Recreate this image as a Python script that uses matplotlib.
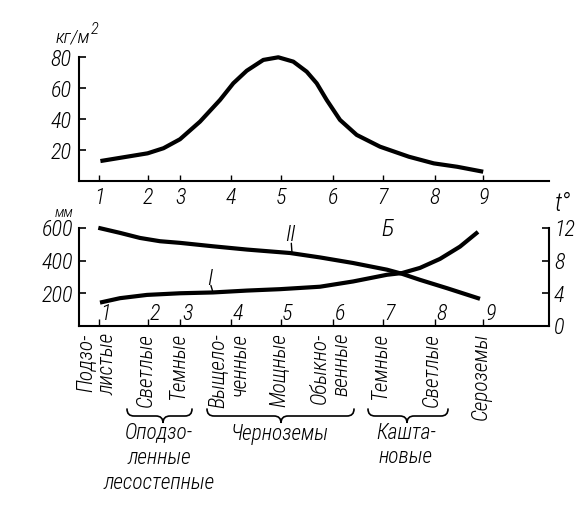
import matplotlib
matplotlib.use('Agg')
import matplotlib.pyplot as plt
from matplotlib.path import Path
from matplotlib.patches import PathPatch
import matplotlib.transforms as mtransforms
from matplotlib import font_manager as fm

# ---- pick a narrow font if one is installed ----
_entries = fm.fontManager.ttflist
_names = {f.name for f in _entries}
_cands = ['Liberation Sans Narrow', 'Roboto Condensed', 'Open Sans Condensed',
          'Noto Sans Condensed', 'DejaVu Sans Condensed', 'Arial Narrow']
_found = [c for c in _cands if c in _names]
NARROW = True
if _found:
    plt.rcParams['font.family'] = [_found[0], 'DejaVu Sans']
else:
    _cond = [f.name for f in _entries
             if str(f.stretch) in ('condensed', 'semi-condensed', 'extra-condensed',
                                   'ultra-condensed', '500', '600', '700', '750')]
    if _cond:
        plt.rcParams['font.family'] = [_cond[0], 'DejaVu Sans']
        plt.rcParams['font.stretch'] = 'condensed'
    else:
        plt.rcParams['font.family'] = ['Liberation Sans', 'DejaVu Sans']
        NARROW = False
plt.rcParams['font.style'] = 'italic'
plt.rcParams['font.weight'] = 'light'

# ---------------- data ----------------
soil_numbers = ['1', '2', '3', '4', '5', '6', '7', '8', '9']
soil_pos = [20.5, 69.5, 101.8, 152.3, 202.0, 254.5, 304.3, 356.0, 404.8]
soil_names = ["Подзо-\nлистые", "Светлые", "Темные", "Выщело-\nченные", "Мощные",
              "Обыкно-\nвенные", "Темные", "Светлые", "Сероземы"]
group_names = ["Оподзо-\nленные\nлесостепные", "Черноземы", "Кашта-\nновые"]

# A: biomass, kg/m2
mass_x = [21.9, 69.1, 85.0, 101.5, 121.5, 141.5, 154.8, 168.2, 184.8, 199.8, 214.8,
          228.2, 238.2, 248.2, 261.5, 278.2, 301.5, 330.4, 355.3, 378.7, 404.7]
mass_y = [12.9, 17.9, 21.2, 27.0, 38.4, 52.4, 63.2, 71.3, 78.3, 80.0, 77.2,
          70.7, 63.2, 52.4, 39.5, 29.8, 22.2, 15.7, 11.4, 9.2, 6.0]

# II: precipitation, mm
prec_x = [19.8, 41.5, 61.5, 81.5, 101.5, 134.5, 168.5, 211.5, 241.5, 274.5, 308.5,
          323.5, 341.5, 368.5, 401.5]
prec_mm = [600, 569, 538, 518, 508, 487, 467, 446, 419, 385, 344, 319, 282, 231, 166]

# I: temperature, t°
temp_x = [21.5, 41.5, 68.5, 101.5, 134.5, 168.5, 201.5, 241.5, 274.5, 308.5, 323.5,
          341.5, 361.5, 381.5, 399.5]
temp_t = [2.86, 3.4, 3.8, 4.0, 4.1, 4.33, 4.5, 4.8, 5.44, 6.26, 6.47, 7.1, 8.2, 9.7, 11.5]

mass_ticks = [20, 40, 60, 80]
prec_ticks = [200, 400, 600]
temp_ticks = [0, 4, 8, 12]

# ---------------- layout ----------------
W, H = 581, 519
fig = plt.figure(figsize=(W / 100, H / 100), dpi=100)


def rect(l, r, top, bot):
    return [l / W, 1 - bot / H, (r - l) / W, (bot - top) / H]


LW_AX = 1.5
LW_CURVE = 3.0
FS_TICK = 16 if NARROW else 13
FS_LAB = 15.5 if NARROW else 12

# top panel
ax1 = fig.add_axes(rect(78.5, 548.5, 57.3, 181))
ax1.set_xlim(0, 470)
ax1.set_ylim(0, 80)
ax1.plot(mass_x, mass_y, color='black', lw=LW_CURVE, solid_joinstyle='round',
         solid_capstyle='butt', clip_on=False)
for s in ['top', 'right']:
    ax1.spines[s].set_visible(False)
for s in ['left', 'bottom']:
    ax1.spines[s].set_linewidth(LW_AX)
ax1.set_xticks(soil_pos, soil_numbers)
ax1.set_yticks(mass_ticks)
ax1.tick_params(axis='x', direction='in', length=4, width=1, pad=4.5, labelsize=FS_TICK)
ax1.tick_params(axis='y', direction='in', length=5, width=1.2, pad=5, labelsize=FS_TICK)
ax1.patch.set_alpha(0)

# bottom panel
ax2 = fig.add_axes(rect(78.5, 548.5, 227.8, 326))
ax2.set_xlim(0, 470)
ax2.set_ylim(0, 600)
ax2.patch.set_alpha(0)
ax2.plot(prec_x, prec_mm, color='black', lw=LW_CURVE, solid_joinstyle='round',
         solid_capstyle='butt', clip_on=False)
ax3 = ax2.twinx()
ax3.set_ylim(0, 12)
ax3.patch.set_alpha(0)
ax3.plot(temp_x, temp_t, color='black', lw=LW_CURVE, solid_joinstyle='round',
         solid_capstyle='butt', clip_on=False)
for s in ['top', 'right']:
    ax2.spines[s].set_visible(False)
for s in ['top', 'left', 'bottom']:
    ax3.spines[s].set_visible(False)
ax2.spines['left'].set_linewidth(LW_AX)
ax2.spines['bottom'].set_linewidth(LW_AX)
ax3.spines['right'].set_linewidth(LW_AX)
ax2.set_xticks(soil_pos, [''] * len(soil_pos))
ax2.set_yticks(prec_ticks)
ax3.set_yticks(temp_ticks)
ax2.tick_params(axis='x', direction='in', length=5, width=1)
ax2.tick_params(axis='y', direction='in', length=5, width=1.2, pad=4, labelsize=FS_TICK)
ax3.tick_params(axis='y', direction='in', length=5, width=1.2, pad=4, labelsize=FS_TICK)
for n, p in zip(soil_numbers, soil_pos):
    ax2.annotate(n, xy=(p, 0), xytext=(5, 8.8), textcoords='offset points',
                 ha='center', va='center', fontsize=FS_TICK)


# curve labels with short leader lines
def curve_label(ax, text, xy, text_off, lead_off):
    ax.annotate(text, xy=xy, xytext=text_off, textcoords='offset points',
                ha='center', va='center', fontsize=16)
    ax.annotate('', xy=xy, xytext=lead_off, textcoords='offset points',
                arrowprops=dict(arrowstyle='-', lw=1, shrinkA=0, shrinkB=0,
                                color='black'))


curve_label(ax2, 'II', (213.5, 446), (-1, 13), (-0.5, 7))
curve_label(ax3, 'I', (134.5, 4.1), (-2.5, 10), (-1.5, 5))

# pixel overlay for titles, labels and braces
axo = fig.add_axes([0, 0, 1, 1], zorder=5)
axo.set_xlim(0, W)
axo.set_ylim(H, 0)
axo.axis('off')

axo.text(90, 38, 'кг/м', fontsize=14, ha='right', va='center')
axo.text(91, 29, '2', fontsize=12, ha='left', va='center')
axo.text(64, 213, 'мм', fontsize=11, ha='center', va='center')
axo.text(563, 204, 't°', fontsize=18, ha='center', va='center')
axo.text(388, 229, 'Б', fontsize=17, ha='center', va='center')

blend = mtransforms.blended_transform_factory(ax2.transData, axo.transData)
for name, p in zip(soil_names, soil_pos):
    axo.text(p - 2.5, 333, name, transform=blend, rotation=90, ha='center', va='top',
             multialignment='right', fontsize=FS_LAB, linespacing=1.0)


def brace(x0, x1, xt, ytop, ybase, ytip, r=7):
    verts = [(x0, ytop), (x0, ybase), (x0 + r, ybase),
             (xt - r, ybase), (xt, ybase), (xt, ytip),
             (xt, ybase), (xt + r, ybase),
             (x1 - r, ybase), (x1, ybase), (x1, ytop)]
    codes = [Path.MOVETO, Path.CURVE3, Path.CURVE3,
             Path.LINETO, Path.CURVE3, Path.CURVE3,
             Path.CURVE3, Path.CURVE3,
             Path.LINETO, Path.CURVE3, Path.CURVE3]
    axo.add_patch(PathPatch(Path(verts, codes), fill=False, lw=1.2, color='black',
                            capstyle='round'))


brace(127, 192, 163, 409, 416, 423)
brace(207, 354, 281, 409, 416, 423)
brace(368, 448, 407, 409, 416, 423)

axo.text(159, 458, group_names[0], ha='center', va='center', fontsize=FS_LAB,
         linespacing=1.2)
axo.text(280, 434, group_names[1], ha='center', va='center', fontsize=FS_LAB)
axo.text(406, 445, group_names[2], ha='center', va='center', fontsize=FS_LAB,
         linespacing=1.1)

fig.savefig('out.png', dpi=100)
